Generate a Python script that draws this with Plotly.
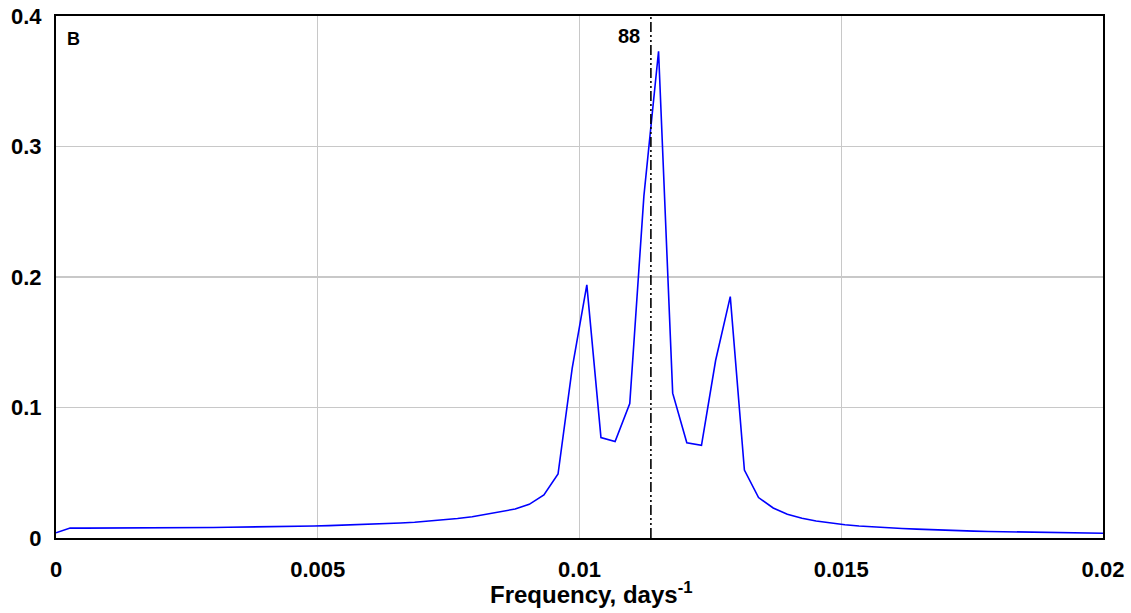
import plotly.graph_objects as go

# periodogram, frequency step 1/3650 days^-1
freq = [
    0.0, 0.00027, 0.00055, 0.00082, 0.0011, 0.00137, 0.00164, 0.00192, 0.00219, 0.00247,
    0.00274, 0.00301, 0.00329, 0.00356, 0.00384, 0.00411, 0.00438, 0.00466, 0.00493, 0.00521,
    0.00548, 0.00575, 0.00603, 0.0063, 0.00658, 0.00685, 0.00712, 0.0074, 0.00767, 0.00795,
    0.00822, 0.00849, 0.00877, 0.00904, 0.00932, 0.00959, 0.00986, 0.01014, 0.01041, 0.01068,
    0.01096, 0.01123, 0.01151, 0.01178, 0.01205, 0.01233, 0.0126, 0.01288, 0.01315, 0.01342,
    0.0137, 0.01397, 0.01425, 0.01452, 0.01479, 0.01507, 0.01534, 0.01562, 0.01589, 0.01616,
    0.01644, 0.01671, 0.01699, 0.01726, 0.01753, 0.01781, 0.01808, 0.01836, 0.01863, 0.0189,
    0.01918, 0.01945, 0.01973, 0.02,
]
power = [
    0.0040, 0.0076, 0.0076, 0.0076, 0.0076, 0.0077, 0.0077, 0.0078, 0.0078, 0.0079,
    0.0080, 0.0081, 0.0082, 0.0083, 0.0085, 0.0086, 0.0088, 0.0090, 0.0092, 0.0095,
    0.0098, 0.0101, 0.0105, 0.0110, 0.0115, 0.0121, 0.0129, 0.0138, 0.0149, 0.0163,
    0.0181, 0.0200, 0.0222, 0.0258, 0.0330, 0.0490, 0.1300, 0.1940, 0.0770, 0.0740,
    0.1030, 0.2620, 0.3730, 0.1110, 0.0730, 0.0710, 0.1360, 0.1850, 0.0520, 0.0310,
    0.0230, 0.0182, 0.0152, 0.0130, 0.0114, 0.0102, 0.0092, 0.0084, 0.0078, 0.0073,
    0.0068, 0.0063, 0.0059, 0.0056, 0.0053, 0.0050, 0.0048, 0.0046, 0.0044, 0.0042,
    0.0040, 0.0038, 0.0037, 0.0036,
]
period_days = 88
x_ticks = [0, 0.005, 0.01, 0.015, 0.02]
x_labels = ["0", "0.005", "0.01", "0.015", "0.02"]
y_ticks = [0, 0.1, 0.2, 0.3, 0.4]
y_labels = ["0", "0.1", "0.2", "0.3", "0.4"]

font_bold = "Liberation Sans, Arial, sans-serif"

fig = go.Figure()
fig.add_trace(go.Scatter(
    x=freq, y=power, mode="lines",
    line=dict(color="#0000ff", width=1.6),
    hoverinfo="skip", showlegend=False,
))

fig.add_shape(
    type="line", xref="x", yref="paper",
    x0=1 / period_days, x1=1 / period_days, y0=0, y1=1,
    line=dict(color="black", width=1.6, dash="10px,3px,2px,3px,2px,3px"),
)
fig.add_annotation(
    x=1 / period_days, y=1, xref="x", yref="paper",
    text="<b>88</b>", showarrow=False, xanchor="right", yanchor="top",
    xshift=-9, yshift=-7, font=dict(size=20, color="black", family=font_bold),
)
fig.add_annotation(
    x=0, y=1, xref="paper", yref="paper",
    text="<b>B</b>", showarrow=False, xanchor="left", yanchor="top",
    xshift=9, yshift=-11, font=dict(size=18, color="black", family=font_bold),
)
fig.add_annotation(
    x=0.5, y=0, xref="paper", yref="paper",
    text="<b>Frequency, days<sup>-1</sup></b>", showarrow=False,
    xanchor="center", yanchor="top", yshift=-38, xshift=12,
    font=dict(size=24, color="black", family=font_bold),
)

axis_common = dict(
    showline=True, linecolor="black", linewidth=2, mirror=True,
    showgrid=True, gridcolor="#c8c8c8", gridwidth=1.3,
    zeroline=False, ticks="", automargin=False,
    tickfont=dict(size=22, color="black", family=font_bold),
)
fig.update_xaxes(
    range=[0, 0.02], tickvals=x_ticks, ticktext=[f"<b>{t}</b>" for t in x_labels],
    ticklabelstandoff=11,
    **axis_common,
)
fig.update_yaxes(
    range=[0, 0.4], tickvals=y_ticks, ticktext=[f"<b>{t}</b>" for t in y_labels],
    ticklabelstandoff=8,
    **axis_common,
)
fig.update_layout(
    width=1131, height=613,
    margin=dict(l=56, r=28, t=16, b=75),
    paper_bgcolor="white", plot_bgcolor="white",
    font=dict(family=font_bold, color="black"),
)
# drop the default page margin so the figure sits at the window's corner
fig.write_html(
    "out.html",
    config={"displayModeBar": False, "staticPlot": True},
    post_script="document.body.style.margin='0';",
)
